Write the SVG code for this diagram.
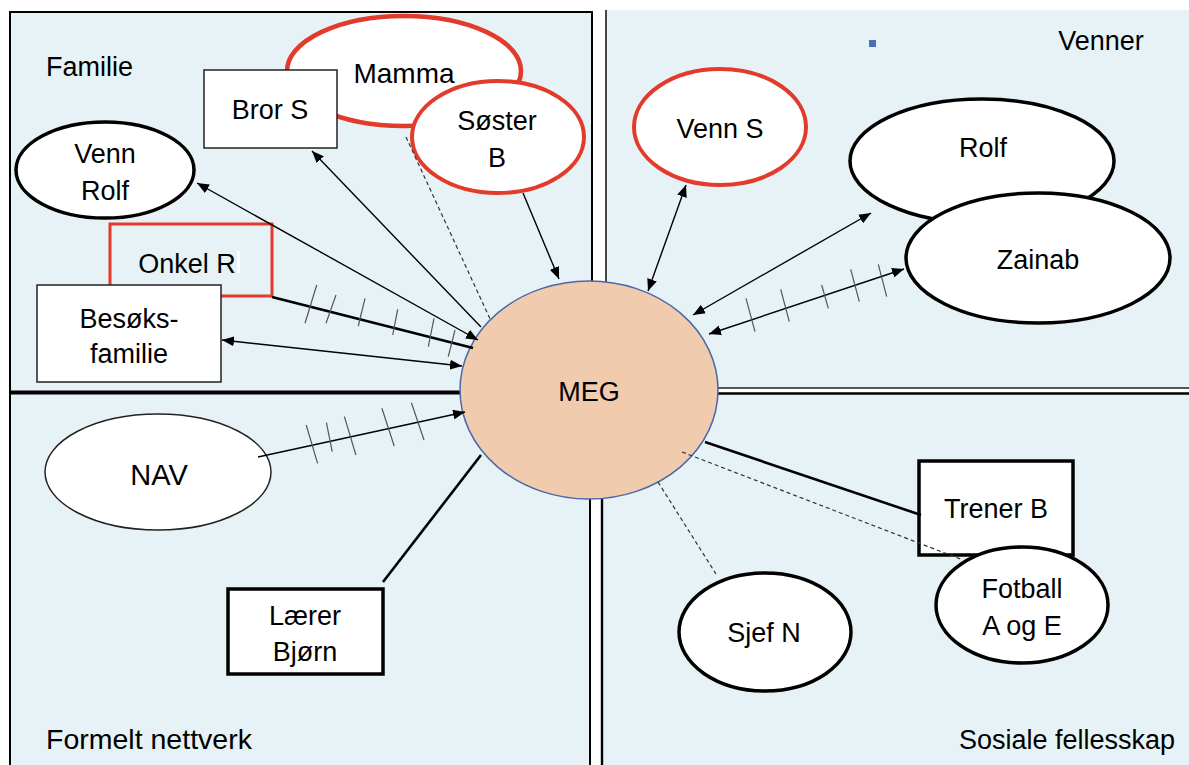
<svg xmlns="http://www.w3.org/2000/svg" width="1189" height="765" viewBox="0 0 1189 765">
<defs>
<style>
.q{fill:#e6f2f5}
.t{font-family:"Liberation Sans",Arial,sans-serif;font-size:27px;fill:#000;text-anchor:middle}
.tl{text-anchor:start}
.te{text-anchor:end}
.red{fill:#fff;stroke:#e33b2b;stroke-width:4}
.blk{fill:#fff;stroke:#000;stroke-width:3.5}
.thin{fill:#fff;stroke:#222;stroke-width:1.5}
.c{stroke:#000;stroke-width:1.4;fill:none}
.thick{stroke:#000;stroke-width:2.6;fill:none}
.d{stroke:#333;stroke-width:1.2;stroke-dasharray:4 3;fill:none}
.tick{stroke:#555;stroke-width:1.2}
.bl{stroke:#000;stroke-width:2;fill:none}
</style>
<marker id="ah" viewBox="0 0 12 10" refX="12" refY="5" markerWidth="12" markerHeight="10" markerUnits="userSpaceOnUse" orient="auto-start-reverse"><path d="M0,0L12,5L0,10z" fill="#000"/></marker>
</defs>
<rect width="1189" height="765" fill="#fff"/>
<g id="quadrants">
 <rect class="q" x="10" y="12" width="582" height="381"/>
 <rect class="q" x="10" y="393" width="580" height="380"/>
 <rect class="q" x="606" y="10" width="590" height="378"/>
 <rect class="q" x="602" y="393" width="590" height="380"/>
 <path class="bl" d="M10,393V12H592V393"/>
 <line x1="10" y1="392.5" x2="592" y2="392.5" stroke="#000" stroke-width="3.8"/>
 <path class="bl" d="M10,393V770M590,393V770"/>
 <path d="M606,10V388" stroke="#333" stroke-width="1.8" fill="none"/>
 <path d="M606,388H1195" stroke="#555" stroke-width="2" fill="none"/>
 <path d="M602,770V393.5H1195" stroke="#000" stroke-width="2.4" fill="none"/>
 <text class="t tl" x="46" y="76">Familie</text>
 <text class="t" x="1101" y="50">Venner</text>
 <text class="t tl" x="46" y="749" style="font-size:28.5px">Formelt nettverk</text>
 <text class="t te" x="1175" y="749">Sosiale fellesskap</text>
 <rect x="869" y="40" width="7" height="7" fill="#4a6fb5"/>
</g>
<g id="mamma"><ellipse class="red" cx="404" cy="71" rx="117" ry="55" style="stroke-width:4.6"/><text class="t" x="404" y="83" style="font-size:28px">Mamma</text></g>
<g id="bror-s"><rect class="thin" x="204" y="70" width="133" height="78"/><text class="t" x="270" y="119">Bror S</text></g>
<g id="soster-b"><ellipse class="red" cx="498" cy="137" rx="86" ry="56"/><text class="t" x="497" y="130">Søster</text><text class="t" x="497" y="167">B</text></g>
<g id="venn-rolf"><ellipse class="blk" cx="105" cy="170" rx="89" ry="48"/><text class="t" x="105" y="163">Venn</text><text class="t" x="105" y="200">Rolf</text></g>
<g id="onkel-r"><rect x="110" y="224" width="162" height="72" fill="none" stroke="#e33b2b" stroke-width="3"/><text class="t" x="187" y="273">Onkel R</text><rect x="237" y="251" width="3" height="22" fill="#fff"/></g>
<g id="besoks-familie"><rect class="thin" x="37" y="285" width="184" height="97" stroke="#000"/><text class="t" x="129" y="328">Besøks-</text><text class="t" x="129" y="363">familie</text></g>
<g id="meg"><ellipse cx="589" cy="390" rx="129" ry="109" fill="#f1cbad" stroke="#4a68a8" stroke-width="1.5"/><text class="t" x="589" y="401">MEG</text></g>
<g id="venn-s"><ellipse class="red" cx="720" cy="127" rx="86" ry="58"/><text class="t" x="720" y="138">Venn S</text></g>
<g id="rolf"><ellipse class="blk" cx="982" cy="161" rx="132" ry="62"/><text class="t" x="983" y="157">Rolf</text></g>
<g id="zainab"><ellipse class="blk" cx="1038" cy="258" rx="132" ry="65"/><text class="t" x="1038" y="269">Zainab</text></g>
<g id="nav"><ellipse class="thin" cx="158" cy="472" rx="113" ry="58" stroke="#111"/><text class="t" x="159" y="485" style="font-size:29px">NAV</text></g>
<g id="laerer-bjorn"><rect class="blk" x="228" y="589" width="155" height="85"/><text class="t" x="305" y="625">Lærer</text><text class="t" x="305" y="661">Bjørn</text></g>
<g id="trener-b"><rect class="blk" x="919" y="461" width="154" height="94"/><text class="t" x="996" y="518">Trener B</text></g>
<g id="fotball"><ellipse class="blk" cx="1022" cy="605" rx="86" ry="58"/><text class="t" x="1022" y="598">Fotball</text><text class="t" x="1022" y="635">A og E</text></g>
<g id="sjef-n"><ellipse class="blk" cx="765" cy="632" rx="86" ry="59"/><text class="t" x="764" y="642">Sjef N</text></g>
<g id="connectors">
 <line class="c" x1="481" y1="327" x2="312" y2="151" marker-end="url(#ah)"/>
 <line class="c" x1="197" y1="183" x2="478" y2="340" marker-start="url(#ah)" marker-end="url(#ah)"/>
 <line class="d" x1="406" y1="137" x2="491" y2="321"/>
 <line class="c" x1="523" y1="193" x2="559" y2="279" marker-end="url(#ah)"/>
 <line class="thick" x1="272" y1="297" x2="473" y2="348"/>
 <g class="tick">
  <line x1="316.7" y1="285" x2="305" y2="323.3"/><line x1="336" y1="295" x2="326" y2="323.3"/><line x1="365" y1="298.3" x2="358.3" y2="326"/><line x1="397.7" y1="309.3" x2="392.7" y2="335"/><line x1="434" y1="318.3" x2="428.3" y2="346.7"/><line x1="455" y1="330" x2="448.3" y2="356.7"/>
 </g>
 <line class="c" x1="222" y1="340" x2="462" y2="366" marker-start="url(#ah)" marker-end="url(#ah)"/>
 <line class="c" x1="686" y1="185" x2="648" y2="291" marker-start="url(#ah)" marker-end="url(#ah)"/>
 <line class="c" x1="871" y1="213" x2="693" y2="315" marker-start="url(#ah)" marker-end="url(#ah)"/>
 <line class="c" x1="904" y1="269" x2="709" y2="334" marker-start="url(#ah)" marker-end="url(#ah)"/>
 <g class="tick">
  <line x1="746" y1="298.3" x2="755" y2="331.7"/><line x1="780.7" y1="289.3" x2="789.3" y2="321.7"/><line x1="821.7" y1="285" x2="828.3" y2="308.3"/><line x1="850.7" y1="269.3" x2="859.3" y2="301.7"/><line x1="878.3" y1="264.3" x2="886.7" y2="296.7"/>
 </g>
 <line class="c" x1="258" y1="457" x2="465" y2="412" marker-end="url(#ah)"/>
 <g class="tick">
  <line x1="306.2" y1="425" x2="317.6" y2="463.3"/><line x1="326.4" y1="422.7" x2="332.2" y2="451.7"/><line x1="344.4" y1="416.7" x2="355.9" y2="455"/><line x1="381.9" y1="408.3" x2="394.2" y2="446"/><line x1="411.4" y1="402.7" x2="424" y2="440"/>
 </g>
 <line class="thick" x1="383" y1="582" x2="481" y2="455"/>
 <line class="thick" x1="705" y1="442" x2="921" y2="515"/>
 <line class="d" x1="682" y1="452" x2="963" y2="560"/>
 <line class="d" x1="658" y1="482" x2="716" y2="574"/>
</g>
</svg>
